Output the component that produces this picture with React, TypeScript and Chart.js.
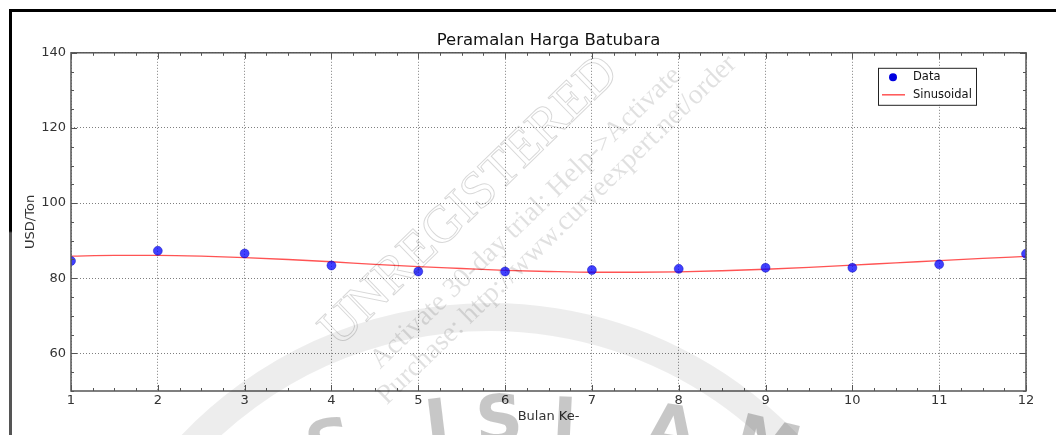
import React, { useEffect, useRef } from "react";
import { Chart, registerables } from "chart.js";

Chart.register(...registerables);

// ---- Data ----
const months = [1, 2, 3, 4, 5, 6, 7, 8, 9, 10, 11, 12];
const priceData = [84.6, 87.3, 86.6, 83.4, 81.8, 81.8, 82.2, 82.5, 82.8, 82.8, 83.7, 86.5];
const curveX = [1, 1.5, 2, 2.5, 3, 3.5, 4, 4.5, 5, 5.5, 6, 6.5, 7, 7.5, 8, 8.5, 9, 9.5, 10, 10.5, 11, 11.5, 12];
const curveY = [85.9, 86.1, 86.1, 85.9, 85.5, 85.0, 84.4, 83.7, 83.1, 82.6, 82.1, 81.8, 81.6, 81.6, 81.7, 82.0, 82.4, 82.9, 83.5, 84.1, 84.7, 85.3, 85.8];
const yTickValues = [60, 80, 100, 120, 140];
const xTickValues = months;

const titleText = "Peramalan Harga Batubara";
const xLabel = "Bulan Ke-";
const yLabel = "USD/Ton";
const seriesNames = ["Data", "Sinusoidal"];
const watermarkLines = [
  "UNREGISTERED",
  "Activate 30-day trial: Help->Activate",
  "Purchase: http://www.curveexpert.net/order",
];
const logoLetters = ["S", "I", "S", "L", "A", "M"];

const FONT = "'DejaVu Sans', 'Liberation Sans', sans-serif";
const AXIS_COLOR = "#555";

const backgroundPlugin = {
  id: "bgMarks",
  beforeDraw(chart: any) {
    const ctx = chart.ctx;
    ctx.save();
    ctx.fillStyle = "#fff";
    ctx.fillRect(0, 0, chart.width, chart.height);
    ctx.restore();
  },
};

const axesPlugin = {
  id: "mplAxes",
  afterDatasetsDraw(chart: any) {
    const { ctx, chartArea } = chart;
    const xs = chart.scales.x;
    const ys = chart.scales.y;
    const { left, right, top, bottom } = chartArea;
    ctx.save();
    ctx.strokeStyle = AXIS_COLOR;
    ctx.lineWidth = 1;
    const tick = (x1: number, y1: number, x2: number, y2: number) => {
      ctx.beginPath();
      ctx.moveTo(x1, y1);
      ctx.lineTo(x2, y2);
      ctx.stroke();
    };
    for (let v = xs.min; v <= xs.max + 1e-9; v += 0.25) {
      const px = Math.round(xs.getPixelForValue(v)) + 0.5;
      const major = Math.abs(v - Math.round(v)) < 1e-9;
      const len = major ? 6 : 3;
      tick(px, bottom, px, bottom - len);
      tick(px, top, px, top + len);
    }
    for (let v = ys.min; v <= ys.max + 1e-9; v += 5) {
      const py = Math.round(ys.getPixelForValue(v)) + 0.5;
      const major = v % 20 === 0;
      const len = major ? 6 : 3;
      tick(left, py, left + len, py);
      tick(right, py, right - len, py);
    }
    ctx.lineWidth = 1.5;
    ctx.strokeRect(left, top, right - left, bottom - top);
    ctx.restore();
  },
  afterDraw(chart: any) {
    const { ctx, chartArea } = chart;
    ctx.save();
    // legend box
    const bw = 98, bh = 37;
    const bx = chartArea.right - 50 - bw;
    const by = chartArea.top + 15;
    ctx.fillStyle = "#fff";
    ctx.fillRect(bx, by, bw, bh);
    ctx.strokeStyle = "#222";
    ctx.lineWidth = 1;
    ctx.strokeRect(bx + 0.5, by + 0.5, bw, bh);
    const ds0 = chart.data.datasets[0];
    const ds1 = chart.data.datasets[1];
    ctx.fillStyle = "#0000e0";
    ctx.beginPath();
    ctx.arc(bx + 15, by + 9.5, 4, 0, Math.PI * 2);
    ctx.fill();
    ctx.strokeStyle = ds1.borderColor;
    ctx.lineWidth = 1.5;
    ctx.beginPath();
    ctx.moveTo(bx + 4, by + 27);
    ctx.lineTo(bx + 27, by + 27);
    ctx.stroke();
    ctx.fillStyle = "#111";
    ctx.font = `11.5px ${FONT}`;
    ctx.textBaseline = "middle";
    ctx.textAlign = "left";
    ctx.fillText(ds0.label, bx + 35, by + 9.5);
    ctx.fillText(ds1.label, bx + 35, by + 27);

    // faint logo ring and letters
    ctx.strokeStyle = "rgba(0,0,0,0.07)";
    ctx.lineWidth = 28;
    ctx.beginPath();
    ctx.arc(490, 729, 412, Math.PI * 1.05, Math.PI * 1.95);
    ctx.stroke();
    ctx.fillStyle = "rgba(0,0,0,0.22)";
    ctx.font = `bold 66px ${FONT}`;
    ctx.textAlign = "center";
    ctx.textBaseline = "alphabetic";
    const lx = [335, 440, 500, 572, 668, 762];
    const ly = [466, 446, 442, 445, 452, 466];
    const lr = [-0.22, -0.12, -0.04, 0.05, 0.15, 0.25];
    logoLetters.forEach((ch, i) => {
      ctx.save();
      ctx.translate(lx[i], ly[i]);
      ctx.rotate(lr[i]);
      ctx.fillText(ch, 0, 0);
      ctx.restore();
    });

    // trial watermark
    const ang = -0.77;
    ctx.textAlign = "center";
    ctx.textBaseline = "middle";
    ctx.save();
    ctx.translate(470, 202);
    ctx.rotate(ang);
    ctx.font = `52px 'Liberation Serif', 'DejaVu Serif', serif`;
    ctx.strokeStyle = "rgba(0,0,0,0.16)";
    ctx.lineWidth = 1;
    ctx.strokeText(watermarkLines[0], 0, 0);
    ctx.restore();
    ctx.fillStyle = "rgba(0,0,0,0.12)";
    ctx.font = `28px 'Liberation Serif', 'DejaVu Serif', serif`;
    ctx.save();
    ctx.translate(526, 218);
    ctx.rotate(ang);
    ctx.fillText(watermarkLines[1], 0, 0);
    ctx.restore();
    ctx.save();
    ctx.translate(557, 230);
    ctx.rotate(ang);
    ctx.fillText(watermarkLines[2], 0, 0);
    ctx.restore();
    ctx.restore();
  },
};

export default function App() {
  const canvasRef = useRef<HTMLCanvasElement | null>(null);

  useEffect(() => {
    const canvas = canvasRef.current;
    if (!canvas) return;
    const chart = new Chart(canvas, {
      type: "scatter",
      data: {
        datasets: [
          {
            label: seriesNames[0],
            data: months.map((m, i) => ({ x: m, y: priceData[i] })),
            showLine: false,
            pointRadius: 4.5,
            pointHoverRadius: 4.5,
            backgroundColor: "rgba(0,0,255,0.75)",
            borderColor: "rgba(0,0,170,0.8)",
            borderWidth: 0.5,
            clip: 0,
            order: 0,
          },
          {
            label: seriesNames[1],
            data: curveX.map((x, i) => ({ x, y: curveY[i] })),
            showLine: true,
            pointRadius: 0,
            borderColor: "rgba(255,40,40,0.8)",
            backgroundColor: "rgba(255,40,40,0.8)",
            borderWidth: 1.3,
            cubicInterpolationMode: "monotone",
            clip: 0,
            order: 1,
          },
        ],
      },
      options: {
        responsive: false,
        animation: false,
        devicePixelRatio: 1,
        layout: { padding: { left: 0, right: 30, top: 0, bottom: 0 } },
        plugins: {
          legend: { display: false },
          tooltip: { enabled: false },
          title: {
            display: true,
            fullSize: false,
            text: titleText,
            color: "#111",
            font: { family: FONT, size: 16.5, weight: "normal", lineHeight: 1.2 },
            padding: { top: 31, bottom: 2 },
          },
        },
        scales: {
          x: {
            type: "linear",
            min: 1,
            max: 12,
            afterFit: (s: any) => {
              s.height = 44;
            },
            afterBuildTicks: (s: any) => {
              s.ticks = xTickValues.map((v) => ({ value: v }));
            },
            ticks: {
              color: "#333",
              font: { family: FONT, size: 13 },
              padding: 2,
              maxRotation: 0,
              autoSkip: false,
            },
            grid: {
              color: "rgba(0,0,0,0.5)",
              lineWidth: 1,
              drawTicks: false,
            },
            border: { display: false, dash: [1, 2] },
            title: {
              display: true,
              text: xLabel,
              color: "#333",
              font: { family: FONT, size: 13 },
              padding: { top: 0, bottom: 11 },
            },
          },
          y: {
            type: "linear",
            min: 50,
            max: 140,
            afterFit: (s: any) => {
              s.width = 71;
            },
            afterBuildTicks: (s: any) => {
              s.ticks = yTickValues.map((v) => ({ value: v }));
            },
            ticks: {
              color: "#333",
              font: { family: FONT, size: 13 },
              padding: 5,
              autoSkip: false,
            },
            grid: {
              color: "rgba(0,0,0,0.5)",
              lineWidth: 1,
              drawTicks: false,
            },
            border: { display: false, dash: [1, 2] },
            title: {
              display: true,
              text: yLabel,
              color: "#333",
              font: { family: FONT, size: 13 },
              padding: { top: 23, bottom: 0 },
            },
          },
        },
      },
      plugins: [backgroundPlugin, axesPlugin],
    } as any);
    return () => chart.destroy();
  }, []);

  return (
    <div
      style={{
        position: "fixed",
        left: 0,
        top: 0,
        width: 1056,
        height: 435,
        overflow: "hidden",
        background: "#fff",
      }}
    >
      <canvas
        ref={canvasRef}
        width={1056}
        height={435}
        style={{ position: "absolute", left: 0, top: 0, width: 1056, height: 435 }}
      />
      <div
        style={{
          position: "absolute",
          left: 9,
          top: 9,
          width: 1100,
          height: 3,
          background: "#000",
        }}
      />
      <div
        style={{
          position: "absolute",
          left: 9,
          top: 9,
          width: 3,
          height: 500,
          background: "linear-gradient(#000 0px, #000 222px, #555 224px, #555 500px)",
        }}
      />
    </div>
  );
}
